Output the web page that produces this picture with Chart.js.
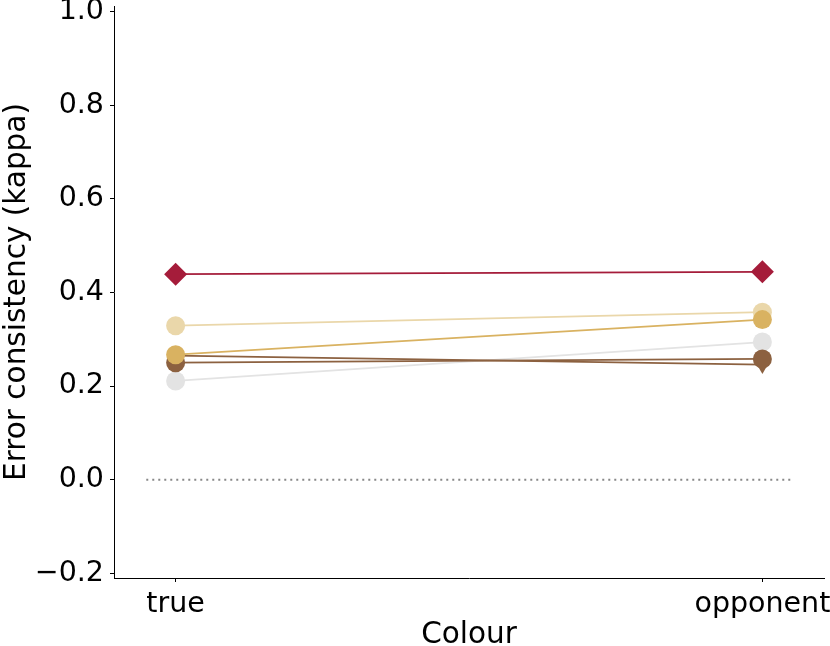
<!DOCTYPE html>
<html>
<head>
<meta charset="utf-8">
<script src="https://cdn.jsdelivr.net/npm/chart.js@4"></script>
<style>
  html, body { margin: 0; padding: 0; background: #fff; }
  #wrap { width: 830px; height: 646px; }
</style>
</head>
<body>
<div id="wrap"><canvas id="kappaChart" width="830" height="646"></canvas></div>
<script>
// categories on the x axis
var conditions = ['true', 'opponent'];
var yTicks = [-0.2, 0.0, 0.2, 0.4, 0.6, 0.8, 1.0];

// error consistency per model (true, opponent)
var diamondRed = [0.439, 0.444];
var lightTan = [0.329, 0.358];
var gold = [0.267, 0.342];
var brownCircle = [0.250, 0.258];
var brownTriangle = [0.265, 0.246];
var lightGrey = [0.211, 0.294];

// dotted reference line at zero
var zeroLineX = [-0.05, 1.05];
var zeroLineY = [0, 0];

function toPoints(values) {
    return values.map(function (v, i) { return { x: i, y: v }; });
}

function series(values, colour, shape, size, rotation) {
    return {
        data: toPoints(values),
        borderColor: colour,
        backgroundColor: colour,
        borderWidth: 1.8,
        pointStyle: shape,
        pointRadius: size,
        pointBorderWidth: 0,
        pointRotation: rotation || 0,
        showLine: true,
        tension: 0
    };
}

const fontFamily = "'DejaVu Sans', sans-serif";
const tickSize = 28.5;
const titleSize = 29.5;

const data = {
    datasets: [
        series(diamondRed, '#a51c3a', 'rectRot', 11.5),
        series(gold, '#d9b261', 'circle', 9.5),
        series(brownCircle, '#8c6140', 'circle', 9.5),
        series(brownTriangle, '#8c6140', 'triangle', 9.5, 180),
        series(lightTan, '#ead7aa', 'circle', 9.5),
        series(lightGrey, '#e3e3e3', 'circle', 9.5),
        {
            data: zeroLineX.map(function (x, i) { return { x: x, y: zeroLineY[i] }; }),
            borderColor: '#888888',
            borderWidth: 2,
            borderDash: [2, 4],
            pointRadius: 0,
            showLine: true
        }
    ]
};

new Chart(document.getElementById('kappaChart'), {
    type: 'scatter',
    data: data,
    options: {
        responsive: false,
        animation: false,
        layout: { autoPadding: false, padding: { top: 6, right: 6, left: 0, bottom: 0 } },
        plugins: { legend: { display: false }, tooltip: { enabled: false } },
        scales: {
            x: {
                type: 'linear',
                min: -0.105,
                max: 1.105,
                afterBuildTicks: function (scale) {
                    scale.ticks = conditions.map(function (c, i) { return { value: i }; });
                },
                afterFit: function (scale) {
                    scale.height = 68;
                    scale.paddingLeft = 0;
                    scale.paddingRight = 0;
                },
                ticks: {
                    color: '#000',
                    font: { family: fontFamily, size: tickSize },
                    padding: 5,
                    maxRotation: 0,
                    callback: function (v) { return conditions[v]; }
                },
                grid: { drawOnChartArea: false, drawTicks: true, tickLength: 4, tickColor: '#000' },
                border: { display: true, color: '#000', width: 1 },
                title: {
                    display: true,
                    text: 'Colour',
                    color: '#000',
                    font: { family: fontFamily, size: titleSize, lineHeight: 0.7 },
                    padding: { top: 0, bottom: 0 }
                }
            },
            y: {
                min: -0.21,
                max: 1.012,
                afterBuildTicks: function (scale) {
                    scale.ticks = yTicks.map(function (v) { return { value: v }; });
                },
                afterFit: function (scale) {
                    scale.width = 114;
                    scale.paddingTop = 0;
                    scale.paddingBottom = 0;
                },
                ticks: {
                    color: '#000',
                    font: { family: fontFamily, size: tickSize },
                    padding: 6,
                    callback: function (v) {
                        var s = Math.abs(v).toFixed(1);
                        return v < 0 ? '\u2212' + s : s;
                    }
                },
                grid: { drawOnChartArea: false, drawTicks: true, tickLength: 4, tickColor: '#000' },
                border: { display: true, color: '#000', width: 1 },
                title: {
                    display: true,
                    text: 'Error consistency (kappa)',
                    color: '#000',
                    font: { family: fontFamily, size: titleSize },
                    padding: { top: 0, bottom: 0 }
                }
            }
        }
    }
});
</script>
</body>
</html>
